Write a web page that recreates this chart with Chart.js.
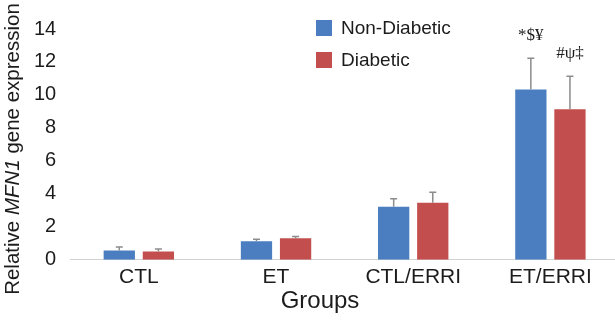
<!DOCTYPE html>
<html>
<head>
<meta charset="utf-8">
<script src="https://cdn.jsdelivr.net/npm/chart.js@4/dist/chart.umd.min.js"></script>
<style>
  html, body { margin: 0; padding: 0; background: #ffffff; overflow: hidden; }
  #wrap { position: relative; width: 619px; height: 320px; }
</style>
</head>
<body>
<div id="wrap"><canvas id="chart"></canvas></div>
<script>
// Groups on the x axis
const categories = ['CTL', 'ET', 'CTL/ERRI', 'ET/ERRI'];

// Relative MFN1 expression (mean) and upper error (SD)
const nonDiabetic    = [0.56, 1.12, 3.22, 10.33];
const nonDiabeticErr = [0.22, 0.12, 0.48, 1.90];
const diabetic       = [0.50, 1.30, 3.46, 9.13];
const diabeticErr    = [0.16, 0.12, 0.64, 2.00];

// Significance symbols printed above the error bars
const nonDiabeticMarks = ['', '', '', '*$¥'];
const diabeticMarks    = ['', '', '', '#ψ‡'];

// Value axis
const yMin = 0;
const yMax = 14;
const yStep = 2;

const SANS = '"Liberation Sans", Arial, Helvetica, sans-serif';
const SERIF = '"Liberation Serif", "Times New Roman", serif';
const TEXT = '#1c1c1c';

// Upward error bars plus the symbol labels above them
const errorBars = {
  id: 'errorBars',
  afterDatasetsDraw(chart) {
    const ctx = chart.ctx;
    const y = chart.scales.y;
    chart.data.datasets.forEach((ds, i) => {
      const meta = chart.getDatasetMeta(i);
      meta.data.forEach((bar, j) => {
        const top = y.getPixelForValue(ds.data[j] + ds.errors[j]);
        ctx.save();
        ctx.strokeStyle = '#8c8c8c';
        ctx.lineWidth = 1.5;
        ctx.beginPath();
        ctx.moveTo(bar.x, bar.y);
        ctx.lineTo(bar.x, top);
        ctx.moveTo(bar.x - 3.5, top);
        ctx.lineTo(bar.x + 3.5, top);
        ctx.stroke();
        const mark = ds.marks[j];
        if (mark) {
          ctx.fillStyle = TEXT;
          ctx.font = '17px ' + SERIF;
          ctx.textAlign = 'center';
          ctx.textBaseline = 'middle';
          ctx.fillText(mark, bar.x, top - 23);
        }
        ctx.restore();
      });
    });
  }
};

// Legend inside the plot, stacked vertically
const boxLegend = {
  id: 'boxLegend',
  afterDraw(chart, args, opts) {
    const ctx = chart.ctx;
    ctx.save();
    ctx.font = opts.fontSize + 'px ' + SANS;
    ctx.textBaseline = 'middle';
    ctx.textAlign = 'left';
    chart.data.datasets.forEach((ds, i) => {
      const top = opts.y + i * opts.rowGap;
      ctx.fillStyle = ds.backgroundColor;
      ctx.fillRect(opts.x, top, opts.box, opts.box);
      ctx.fillStyle = TEXT;
      ctx.fillText(ds.label, opts.x + opts.box + 9, top + opts.box / 2 + 1);
    });
    ctx.restore();
  }
};

// Axis titles (the y title mixes upright and italic text)
const axisTitles = {
  id: 'axisTitles',
  afterDraw(chart, args, opts) {
    const ctx = chart.ctx;
    ctx.save();
    ctx.fillStyle = TEXT;
    ctx.textBaseline = 'middle';
    ctx.textAlign = 'left';
    // y title
    ctx.translate(opts.yTitleX, opts.yTitleY);
    ctx.rotate(-Math.PI / 2);
    const parts = opts.yTitle;
    const fontFor = p => (p.italic ? 'italic ' : '') + opts.yTitleSize + 'px ' + SANS;
    let total = 0;
    parts.forEach(p => { ctx.font = fontFor(p); total += ctx.measureText(p.text).width; });
    let x = -total / 2;
    parts.forEach(p => {
      ctx.font = fontFor(p);
      ctx.fillText(p.text, x, 0);
      x += ctx.measureText(p.text).width;
    });
    ctx.restore();
    // x title
    ctx.save();
    ctx.fillStyle = TEXT;
    ctx.font = opts.xTitleSize + 'px ' + SANS;
    ctx.textAlign = 'center';
    ctx.textBaseline = 'middle';
    ctx.fillText(opts.xTitle, opts.xTitleX, opts.xTitleY);
    ctx.restore();
  }
};

new Chart(document.getElementById('chart'), {
  type: 'bar',
  data: {
    labels: categories,
    datasets: [
      {
        label: 'Non-Diabetic',
        data: nonDiabetic,
        errors: nonDiabeticErr,
        marks: nonDiabeticMarks,
        backgroundColor: '#4a7ec1'
      },
      {
        label: 'Diabetic',
        data: diabetic,
        errors: diabeticErr,
        marks: diabeticMarks,
        backgroundColor: '#c24f4d'
      }
    ]
  },
  options: {
    responsive: true,
    maintainAspectRatio: false,
    animation: false,
    devicePixelRatio: 1,
    layout: { padding: { left: 20, right: 0, top: 29, bottom: 25 } },
    datasets: {
      bar: { categoryPercentage: 0.57, barPercentage: 0.8, borderWidth: 0 }
    },
    scales: {
      x: {
        grid: { display: false, drawTicks: false },
        border: { display: true, color: '#d2d2d2', width: 1 },
        ticks: { color: TEXT, padding: 5, font: { family: SANS, size: 21 } }
      },
      y: {
        min: yMin,
        max: yMax,
        grid: { display: false, drawTicks: false },
        border: { display: false },
        ticks: { stepSize: yStep, color: TEXT, padding: 14, font: { family: SANS, size: 20 } }
      }
    },
    plugins: {
      legend: { display: false },
      tooltip: { enabled: false },
      boxLegend: { x: 316, y: 20, box: 16, rowGap: 32, fontSize: 19 },
      axisTitles: {
        yTitle: [
          { text: 'Relative ', italic: false },
          { text: 'MFN1', italic: true },
          { text: ' gene expression', italic: false }
        ],
        yTitleSize: 20.5,
        yTitleX: 13,
        yTitleY: 149,
        xTitle: 'Groups',
        xTitleSize: 24,
        xTitleX: 320,
        xTitleY: 301
      }
    }
  },
  plugins: [errorBars, boxLegend, axisTitles]
});
</script>
</body>
</html>
